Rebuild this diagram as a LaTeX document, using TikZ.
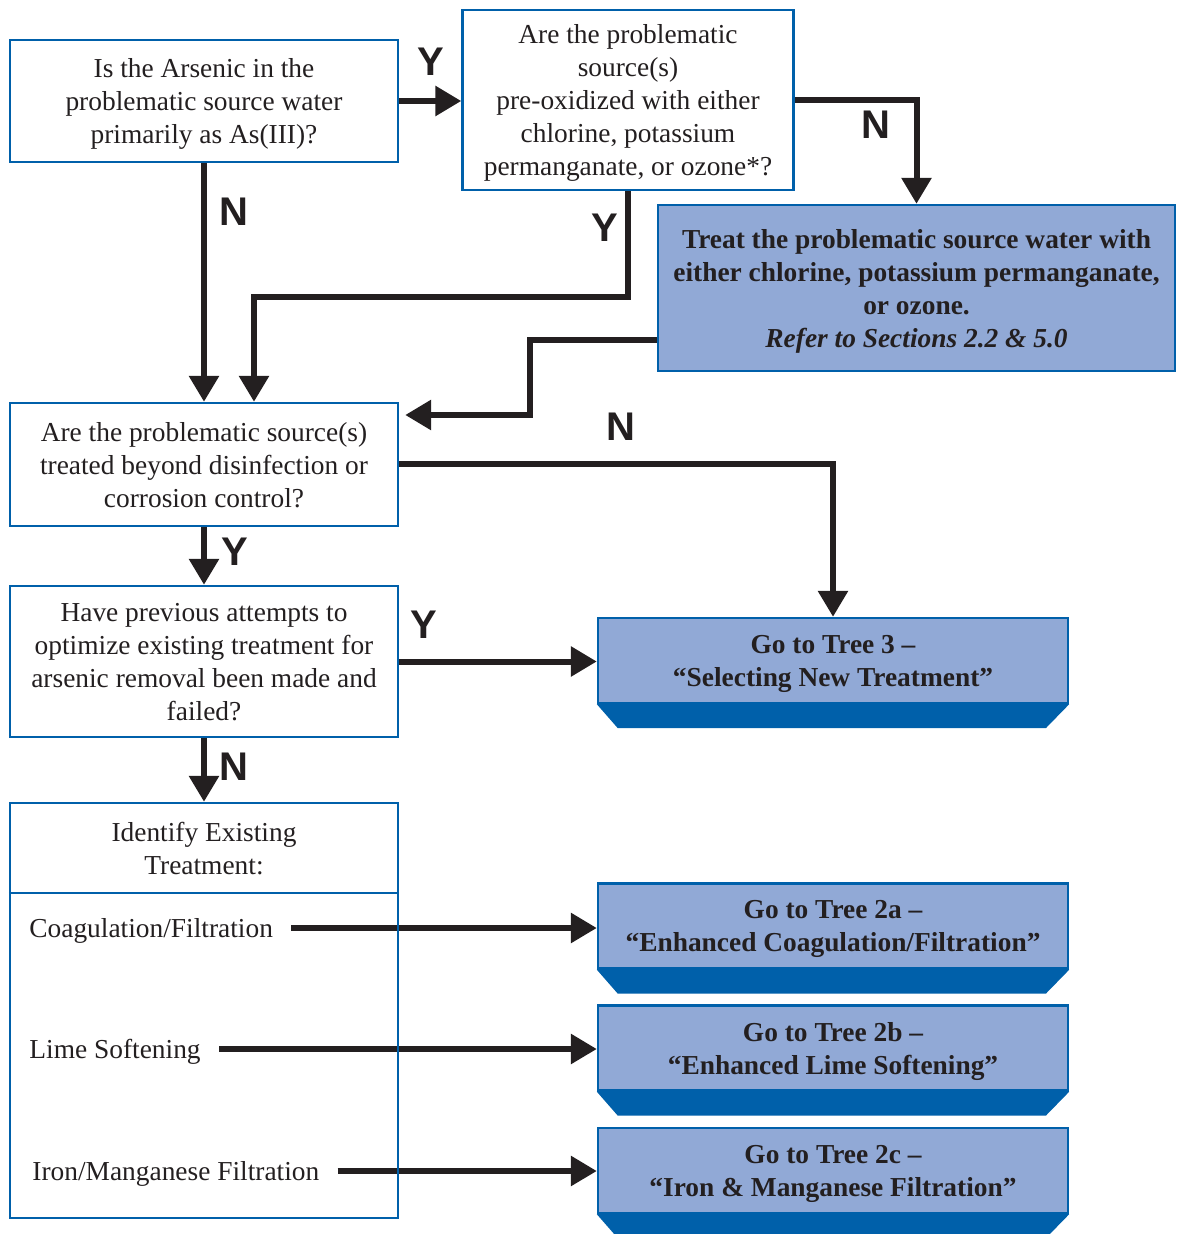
\documentclass[tikz,border=0pt]{standalone}
\usepackage{fontspec}
\setmainfont{Liberation Serif}
\newfontfamily\yesnofont{Liberation Sans}
\usetikzlibrary{arrows.meta}
\pgfdeclarelayer{edgelayer}
\pgfdeclarelayer{nodelayer}
\pgfsetlayers{edgelayer,nodelayer,main}
\definecolor{boxblue}{RGB}{0,96,170}
\definecolor{treefill}{RGB}{145,169,214}
\definecolor{ink}{RGB}{35,31,32}
\tikzset{font=\fontsize{13.7}{16.5}\selectfont}
\tikzstyle{none}=[inner sep=0pt]
\tikzstyle{qbox}=[draw=boxblue,line width=1.2pt,fill=white,align=center,inner sep=0pt,text depth=0pt,text=ink]
\tikzstyle{treebox}=[draw=boxblue,line width=1.2pt,fill=treefill,align=center,inner sep=0pt,text depth=0pt,text=ink,font=\fontsize{13.7}{16.5}\selectfont\bfseries,minimum width=235pt,minimum height=42.5pt]
\tikzstyle{itemlabel}=[anchor=west,inner ysep=0pt,inner xsep=9pt,text depth=0pt,text=ink]
\tikzstyle{yesno}=[inner sep=0pt,text=ink,font=\yesnofont\fontsize{20}{20}\selectfont\bfseries]
\tikzstyle{flowarrow}=[draw=ink,line width=3pt,-{Triangle[length=13pt,width=14.5pt]}]
\tikzstyle{divider}=[draw=boxblue,line width=1.2pt]

\begin{document}
\begin{tikzpicture}[x=0.5pt,y=-0.5pt]
	\useasboundingbox (0,0) rectangle (1176,1234);
	\begin{pgfonlayer}{nodelayer}
		\node [style=qbox, minimum width=194pt, minimum height=61pt] (0) at (204, 101) {Is the Arsenic in the\\problematic source water\\primarily as As(III)?};
		\node [style=qbox, minimum width=165.5pt, minimum height=90pt] (1) at (628, 100) {Are the problematic\\source(s)\\pre-oxidized with either\\chlorine, potassium\\permanganate, or ozone*?};
		\node [style=treebox, minimum width=258.5pt, minimum height=83pt] (2) at (916.5, 288) {Treat the problematic source water with\\either chlorine, potassium permanganate,\\or ozone.\\\textit{Refer to Sections 2.2 \& 5.0}};
		\node [style=qbox, minimum width=194pt, minimum height=61.5pt] (3) at (204, 464.5) {Are the problematic source(s)\\treated beyond disinfection or\\corrosion control?};
		\node [style=qbox, minimum width=194pt, minimum height=75.5pt] (4) at (204, 661.5) {Have previous attempts to\\optimize existing treatment for\\arsenic removal been made and\\failed?};
		\node [style=qbox, fill=none, minimum width=194pt, minimum height=207.5pt] (5) at (204, 1010.5) {};
		\node [style=none, align=center, text=ink] (6) at (204, 849) {Identify Existing\\Treatment:};
		\draw [style=divider] (5.west |- 0,893) -- (5.east |- 0,893);
		\node [style=treebox] (7) at (833, 660.5) {Go to Tree 3 --\\``Selecting New Treatment''};
		\node [style=treebox] (8) at (833, 926) {Go to Tree 2a --\\``Enhanced Coagulation/Filtration''};
		\node [style=treebox] (9) at (833, 1048) {Go to Tree 2b --\\``Enhanced Lime Softening''};
		\node [style=treebox] (10) at (833, 1170.5) {Go to Tree 2c --\\``Iron \& Manganese Filtration''};
		\foreach \t in {7,8,9,10}
			\fill [boxblue] (\t.south east) -- (\t.south west) -- ++(21,24) -- ++(428,0) -- cycle;
		\node [style=itemlabel] (15) at (11, 928) {Coagulation/Filtration};
		\node [style=itemlabel] (16) at (11, 1049) {Lime Softening};
		\node [style=itemlabel] (17) at (14, 1171) {Iron/Manganese Filtration};
		\node [style=yesno] (20) at (431, 62) {Y};
		\node [style=yesno] (21) at (876, 125) {N};
		\node [style=yesno] (22) at (605, 228) {Y};
		\node [style=yesno] (23) at (234, 212) {N};
		\node [style=yesno] (24) at (621, 427) {N};
		\node [style=yesno] (25) at (235, 552) {Y};
		\node [style=yesno] (26) at (424, 625) {Y};
		\node [style=yesno] (27) at (234, 767) {N};
		\node [style=none] (11) at (628, 297) {};
		\node [style=none] (12) at (254, 297) {};
		\node [style=none] (13) at (530, 340) {};
		\node [style=none] (14) at (530, 415) {};
	\end{pgfonlayer}
	\begin{pgfonlayer}{edgelayer}
		\draw [style=flowarrow] (0.east) -- (0.east -| 1.west);
		\draw [style=flowarrow] (1.east) -| (2.north);
		\draw [style=flowarrow] (1.south) -- (11.center) -- (12.center) -- (12.center |- 3.north);
		\draw [style=flowarrow] (0.south) -- (3.north);
		\draw [style=flowarrow, shorten >=3pt] (2.west |- 13.center) -- (13.center) -- (14.center) -- (14.center -| 3.east);
		\draw [style=flowarrow] (3.east) -| (7.north);
		\draw [style=flowarrow] (3.south) -- (4.north);
		\draw [style=flowarrow] (4.east) -- (4.east -| 7.west);
		\draw [style=flowarrow] (4.south) -- (5.north);
		\draw [style=flowarrow] (15.east) -- (15.east -| 8.west);
		\draw [style=flowarrow] (16.east) -- (16.east -| 9.west);
		\draw [style=flowarrow] (17.east) -- (17.east -| 10.west);
	\end{pgfonlayer}
\end{tikzpicture}
\end{document}
